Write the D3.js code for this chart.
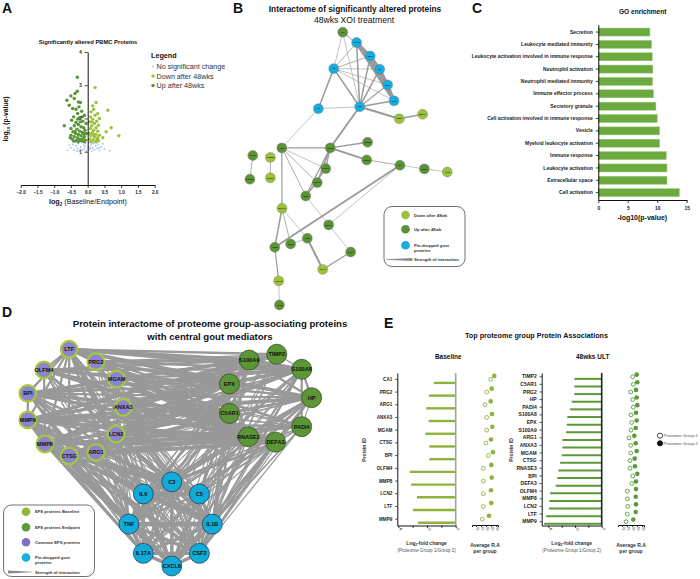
<!DOCTYPE html>
<html>
<head>
<meta charset="utf-8">
<script src="https://cdn.jsdelivr.net/npm/d3@7"></script>
<style>
  body { margin: 0; background: #fff; }
  svg { display: block; font-family: "Liberation Sans", Arial, Helvetica, sans-serif; }
</style>
</head>
<body>
<svg id="fig" width="700" height="579"></svg>
<script>
const FONT = '"Liberation Sans", Arial, Helvetica, sans-serif'

// ---------- A: volcano data [log2 ratio, -log10 p]
const volcanoUp = [[-0.31,3.24],[-0.31,2.82],[-0.38,2.75],[-0.5,2.68],[-0.62,2.55],[-0.4,2.6],[-0.55,2.4],[-0.28,2.5],[-0.22,2.48],[-0.45,2.3],[-0.35,2.28],[-0.18,2.22],[-0.3,2.15],[-0.1,2.1],[-0.42,2.05],[-0.25,2.02],[-0.7,1.78],[-0.48,1.95],[-0.15,1.92],[-0.35,1.88],[-0.05,1.85],[-0.28,1.82],[-0.4,1.78],[-0.2,1.75],[-0.12,1.72],[-0.5,1.7],[-0.32,1.68],[-0.08,1.65],[-0.24,1.62],[-0.44,1.6],[-0.16,1.58],[-0.36,1.55],[-0.04,1.55],[-0.28,1.52],[-0.5,1.5],[-0.2,1.48],[-0.1,1.46],[-0.4,1.45],[-0.3,1.42],[-0.14,1.4],[-0.46,1.38],[-0.24,1.37],[-0.06,1.35],[-0.34,1.34],[-0.18,1.32],[-0.42,1.32],[-0.28,1.3],[-0.1,1.3],[-0.38,1.6],[-0.22,1.9],[-0.3,1.98],[-0.12,1.55],[-0.2,1.35],[-0.52,1.42],[-0.26,2.35],[-0.16,2.05]]
const volcanoDown = [[0.22,2.93],[0.25,2.48],[0.15,2.38],[0.6,2.25],[0.18,2.28],[0.1,2.2],[0.3,2.15],[0.22,2.1],[0.08,2.05],[0.35,2.0],[0.15,1.98],[0.27,1.92],[0.05,1.9],[0.2,1.85],[0.7,1.72],[0.32,1.8],[0.12,1.78],[0.25,1.72],[0.08,1.7],[0.18,1.65],[0.55,1.6],[0.3,1.62],[0.14,1.58],[0.06,1.55],[0.24,1.52],[0.35,1.5],[0.93,1.48],[0.1,1.48],[0.2,1.45],[0.45,1.42],[0.28,1.4],[0.06,1.38],[0.16,1.36],[0.32,1.34],[0.22,1.32],[0.1,1.3],[0.26,1.3],[0.12,1.9],[0.3,1.42],[0.18,1.52]]
const volcanoNS = [[-0.6,1.05],[-0.5,1.12],[-0.45,1.22],[-0.4,1.05],[-0.35,1.18],[-0.3,1.1],[-0.28,1.25],[-0.25,1.02],[-0.2,1.15],[-0.18,1.28],[-0.15,1.06],[-0.12,1.2],[-0.1,1.1],[-0.06,1.25],[-0.04,1.03],[0.02,1.15],[0.04,1.27],[0.06,1.08],[0.1,1.2],[0.12,1.02],[0.15,1.12],[0.18,1.25],[0.2,1.06],[0.24,1.18],[0.28,1.1],[0.3,1.22],[0.35,1.04],[0.4,1.15],[0.45,1.24],[0.5,1.08],[0.66,1.03],[-0.55,1.2],[-0.38,1.28],[-0.22,1.08],[-0.08,1.16],[0.08,1.12],[0.22,1.28],[0.34,1.12],[-0.32,1.02],[0.14,1.26]]
const volcanoXTicks = [-2, -1.5, -1, -0.5, 0, 0.5, 1, 1.5, 2]
const volcanoYTicks = [1, 2, 3, 4]

// ---------- B: network (layout units 0-100)
const netBNodes = [
  ['LTF',46.7,0.8,'up'],['CXCL8',53.0,4.5,'pin'],['CSF2',59.2,9.3,'pin'],['IL6',63.5,14.0,'pin'],
  ['IL17A',67.1,19.6,'pin'],['IL1B',70.0,25.3,'pin'],['C5',42.6,13.8,'pin'],['C3',35.6,28.1,'pin'],
  ['TNF',54.4,27.4,'pin'],['TIMP1',72.4,31.7,'down'],['MMP14',83.0,30.1,'down'],['PSMB8',58.0,40.1,'up'],
  ['HSPA8',41.0,42.1,'up'],['ANXA1',19.0,42.1,'up'],['HSPA5',57.6,46.4,'up'],['PSAP',72.7,48.3,'up'],
  ['CD36',83.8,49.6,'up'],['APOE',94.2,50.7,'down'],['RCN1',5.8,44.8,'up'],['HNRNPK',4.5,53.3,'up'],
  ['CYB5R3',13.8,45.5,'down'],['ERP29',13.8,52.8,'down'],['RPL10',39.0,49.5,'up'],['RPS27A',35.1,54.5,'up'],
  ['RPS3',29.9,59.3,'up'],['EEF1A1',19.1,63.7,'down'],['SEPT7',40.3,69.6,'up'],['GNB2',15.8,77.6,'up'],
  ['RPS6',23.0,76.4,'up'],['TPM4',30.6,74.4,'up'],['SAE1',50.3,79.3,'up'],['MYH9',37.6,85.5,'down'],
  ['YWHAE',17.6,89.6,'down'],['ACTB',17.9,98.2,'up']
]
const netBEdges = [
  ['LTF','C5',0.6],['LTF','TNF',0.6],['LTF','CXCL8',0.6],['LTF','CSF2',0.5],
  ['CXCL8','CSF2',3],['CXCL8','IL6',3.5],['CXCL8','IL17A',4],['CXCL8','IL1B',3],['CSF2','IL6',3],['CSF2','IL17A',3.5],
  ['CSF2','IL1B',3],['IL6','IL17A',3],['IL6','IL1B',2.5],['IL17A','IL1B',3],
  ['C5','CXCL8',0.8],['C5','CSF2',0.8],['C5','IL6',0.6],['C5','IL17A',0.6],['C5','IL1B',0.6],['C5','TNF',1.5],['C5','C3',1.5],
  ['C3','TNF',0.6],['TNF','CXCL8',1.5],['TNF','CSF2',1.5],['TNF','IL6',1.5],['TNF','IL17A',1.2],['TNF','IL1B',1.5],
  ['TNF','TIMP1',2],['TIMP1','MMP14',1.5],['TNF','HSPA8',1.8],['C3','ANXA1',0.6],['ANXA1','HSPA8',1.2],
  ['HSPA8','PSMB8',1.5],['HSPA8','HSPA5',2],['HSPA5','PSAP',0.8],['PSAP','CD36',0.6],['CD36','APOE',0.6],
  ['RCN1','HNRNPK',0.8],['CYB5R3','ERP29',0.8],
  ['ANXA1','RPL10',0.6],['ANXA1','RPS27A',0.8],['ANXA1','RPS3',0.8],['ANXA1','EEF1A1',1.2],['HSPA8','RPL10',1.2],
  ['HSPA8','RPS27A',1.5],['HSPA8','RPS3',1.2],['RPL10','RPS3',1.2],['RPS27A','RPS3',1],
  ['RPS3','SEPT7',0.6],['PSAP','GNB2',1.8],['PSAP','SEPT7',0.6],['EEF1A1','GNB2',1.5],['EEF1A1','RPS6',0.8],
  ['EEF1A1','TPM4',0.6],['RPS6','TPM4',0.6],['TPM4','MYH9',2],['SEPT7','SAE1',0.6],['SAE1','MYH9',1.2],
  ['GNB2','YWHAE',1.2],['YWHAE','ACTB',0.6]
]

// ---------- C: GO enrichment
const goTerms = ['Secretion','Leukocyte mediated immunity','Leukocyte activation involved in immune response',
  'Neutrophil activation','Neutrophil mediated immunity','Immune effector process','Secretory granule',
  'Cell activation involved in immune response','Vesicle','Myeloid leukocyte activation','Immune response',
  'Leukocyte activation','Extracellular space','Cell activation']
const goValues = [8.75, 9.03, 9.15, 9.26, 9.2, 9.37, 9.78, 10.0, 10.4, 10.4, 11.53, 11.65, 11.65, 13.75]
const goTicks = [0, 5, 10, 15]

// ---------- D: interactome (layout units 0-100)
const dPurple = [['LTF',16.4,1.9],['PRG2',25.3,7.4],['OLFM4',8.0,11.1],['MGAM',32.2,15.2],['BPI',2.6,21.5],
  ['ANXA3',34.4,27.7],['MMP9',2.6,33.3],['LCN2',32.0,39.6],['MMP8',8.3,44.0],['ARG1',25.3,47.7],['CTSG',16.4,49.3]]
const dGreen = [['S100A9',76.4,6.7],['TIMP2',85.6,4.1],['S100A8',93.9,10.8],['EPX',69.8,17.3],['HP',97.2,23.4],
  ['C5AR1',69.8,30.4],['PADI4',93.9,36.3],['RNASE3',76.1,40.8],['DEFA3',85.2,43.2]]
const dBlue = [['C3',50.6,60.8],['IL6',41.1,66.2],['C5',59.8,66.2],['TNF',36.3,79.6],['IL1B',64.1,79.6],
  ['IL17A',41.1,92.6],['CSF2',59.8,92.6],['CXCL8',50.6,98.2]]
// weights purple x green
const wPG = [[3,2,3,2,3,2,2,2,3],[3,1,2,3,1,2,1,3,2],[2,1,2,2,2,2,1,2,3],[2,1,2,2,1,2,1,2,2],[3,1,2,2,2,3,1,2,3],
  [2,1,1,2,1,2,1,2,2],[3,2,3,2,3,3,2,2,3],[2,1,2,2,2,2,1,2,2],[3,1,2,2,2,3,2,3,3],[2,0,1,2,1,2,1,2,2],[2,1,2,2,1,2,1,3,3]]
// weights purple x blue
const wPB = [[2,2,1,2,2,1,1,2],[1,1,1,1,1,0,1,1],[1,1,1,1,1,1,1,1],[1,1,0,1,1,0,1,1],[1,2,1,2,2,1,1,2],
  [1,1,1,1,1,0,1,1],[2,2,2,3,3,2,2,3],[2,2,1,2,2,1,1,2],[2,2,2,2,3,2,2,2],[1,1,1,1,1,1,1,1],[2,2,2,2,2,1,2,2]]
// weights green x blue
const wGB = [[1,1,1,2,2,1,1,2],[1,1,1,1,1,0,1,1],[1,1,1,2,2,1,1,2],[1,1,1,1,1,1,1,1],[2,2,2,2,2,1,1,2],
  [2,1,2,1,2,1,1,1],[1,1,1,1,1,0,1,1],[1,1,1,1,1,1,1,1],[2,2,1,2,2,1,2,2]]
const dExtraEdges = [
  ['C3','IL6',3],['C3','C5',3],['C3','TNF',2],['C3','IL1B',2],['C3','IL17A',2],['C3','CSF2',2],['C3','CXCL8',3],
  ['IL6','C5',3],['IL6','TNF',3],['IL6','IL1B',3],['IL6','IL17A',3],['IL6','CSF2',2],['IL6','CXCL8',3],
  ['C5','TNF',2],['C5','IL1B',3],['C5','IL17A',2],['C5','CSF2',2],['C5','CXCL8',3],
  ['TNF','IL1B',4],['TNF','IL17A',3],['TNF','CSF2',3],['TNF','CXCL8',3],
  ['IL1B','IL17A',3],['IL1B','CSF2',3],['IL1B','CXCL8',3],['IL17A','CSF2',3],['IL17A','CXCL8',3],['CSF2','CXCL8',3],
  ['LTF','PRG2',2],['LTF','OLFM4',2],['LTF','MMP9',2],['LTF','LCN2',3],['LTF','MMP8',2],['LTF','CTSG',2],['LTF','BPI',2],
  ['MMP9','MMP8',3],['MMP8','CTSG',2],['OLFM4','MMP8',2],['BPI','MMP9',2],['LCN2','MMP9',2],['ANXA3','MGAM',1],
  ['ARG1','CTSG',1],['PRG2','MGAM',1],['BPI','LCN2',2],['OLFM4','LCN2',2],['MMP9','CTSG',2],
  ['S100A9','S100A8',3],['S100A9','EPX',2],['S100A8','HP',2],['EPX','C5AR1',2],['HP','PADI4',1],['DEFA3','RNASE3',2],
  ['TIMP2','S100A8',1],['S100A9','C5AR1',2],['S100A8','PADI4',2],['EPX','RNASE3',2],['S100A9','HP',2]
]

// ---------- E: top protein associations
const baselineIds = ['CA1','PRG2','ARG1','ANXA3','MGAM','CTSG','BPI','OLFM4','MMP8','LCN2','LTF','MMP9']
const baselineFC = [-1.51,-1.86,-2.05,-1.88,-2.12,-1.84,-1.84,-3.2,-3.11,-2.7,-2.98,-2.63]
const baselineRA1 = [24.7,20.7,19,20.7,20.7,20,22.3,17.3,17.3,17.3,17.3,16.3]
const baselineRA2 = [28.3,25.7,24.7,26,26.3,25,27,25.3,25.7,25,25.3,23]
const ultIds = ['TIMP2','C5AR1','PRG2','HP','PADI4','S100A8','EPX','S100A9','ARG1','ANXA3','MGAM','CTSG','RNASE3','BPI','DEFA3','OLFM4','MMP8','LCN2','LTF','MMP9']
const ultFC = [-2.05,-2.05,-2.05,-2.25,-2.37,-2.58,-2.62,-2.67,-2.95,-2.95,-3.0,-3.12,-3.25,-3.33,-3.45,-3.87,-3.92,-3.95,-4.17,-4.32]
const ultRA1 = [20.7,21.3,18.7,20.7,21.3,19,19.7,19,17,18.7,18.7,18,18,20.7,19.7,15.3,15.3,15.7,15.3,14]
const ultRA2 = [24.7,25.3,24,24.7,25.3,24,24.7,23.7,22.3,23.7,24.7,22.7,23,25.3,24,24,23.7,24,23.7,21.3]
const fcTicks = [-4, -3, -2, -1, 0]
const raTicks = [10, 15, 20, 25, 30]

const C_LIGHT = '#9cc23c', C_DARK = '#5a9436', C_BLUE = '#17addf', C_PURPLE = '#8c84cf'

const svg = d3.select('#fig')

function styleAxis(g, size, weight) {
  g.attr('font-family', FONT)
  g.select('.domain').attr('stroke', '#111').attr('stroke-width', 1)
  g.selectAll('.tick line').attr('stroke', '#111').attr('stroke-width', 0.8)
  g.selectAll('.tick text').attr('font-size', size).attr('font-weight', weight || 'bold').attr('fill', '#222')
}

function label(g, x, y, s, size, o = {}) {
  return g.append('text').attr('x', x).attr('y', y).text(s)
    .attr('font-size', size).attr('font-weight', o.weight || 'normal')
    .attr('text-anchor', o.anchor || 'start').attr('fill', o.fill || '#111')
}

function wedge(g, x0, x1, y, thickLeft) {
  const a = thickLeft ? 1.6 : 0.3, b = thickLeft ? 0.3 : 1.6
  g.append('path').attr('d', `M${x0},${y - a}L${x1},${y - b}L${x1},${y + b}L${x0},${y + a}Z`).attr('fill', '#8a8a8a')
}

// panel letters
;[['A', 2, 13], ['B', 233, 13], ['C', 472, 13], ['D', 2, 317], ['E', 384, 328]].forEach(d =>
  label(svg, d[1], d[2], d[0], 14, { weight: 'bold' }))

// ================= A
;(function () {
  const g = svg.append('g')
  const x = d3.scaleLinear().domain([-2, 2]).range([20.7, 154.7])
  const y = d3.scaleLinear().domain([0, 4]).range([185, 52])
  label(g, 88, 44, 'Significantly altered PBMC Proteins', 5.8, { weight: 'bold', anchor: 'middle' })

  g.selectAll('.ns').data(volcanoNS).join('circle').attr('cx', d => x(d[0])).attr('cy', d => y(d[1]))
    .attr('r', 0.9).attr('fill', '#a9bfe2')
  g.selectAll('.dn').data(volcanoDown).join('circle').attr('cx', d => x(d[0])).attr('cy', d => y(d[1]))
    .attr('r', 1.7).attr('fill', C_LIGHT)
  g.selectAll('.up').data(volcanoUp).join('circle').attr('cx', d => x(d[0])).attr('cy', d => y(d[1]))
    .attr('r', 1.7).attr('fill', C_DARK)

  const xa = g.append('g').attr('transform', 'translate(0,185)')
    .call(d3.axisBottom(x).tickValues(volcanoXTicks).tickSize(3).tickSizeOuter(0).tickFormat(d3.format('.1f')))
  styleAxis(xa, 4.6)
  const ya = g.append('g').attr('transform', `translate(${x(0)},0)`)
    .call(d3.axisLeft(y).tickValues(volcanoYTicks).tickSize(3).tickSizeOuter(0).tickFormat(d3.format('d')))
  styleAxis(ya, 4.6)

  const xt = label(g, 88, 204, '', 7.2, { anchor: 'middle' })
  xt.append('tspan').text('log').attr('font-weight', 'bold')
  xt.append('tspan').text('2').attr('font-size', 4.5).attr('dy', 2).attr('font-weight', 'bold')
  xt.append('tspan').text(' (Baseline/Endpoint)').attr('dy', -2)
  const yt = label(g, 0, 0, '', 6.8, { anchor: 'middle', weight: 'bold' }).attr('transform', 'translate(8,119) rotate(-90)')
  yt.append('tspan').text('log')
  yt.append('tspan').text('10').attr('font-size', 4.3).attr('dy', 2)
  yt.append('tspan').text(' (p-value)').attr('dy', -2)

  label(g, 151, 58, 'Legend', 7.2, { weight: 'bold' })
  const leg = [['No significant change', '#a9bfe2', 0.9], ['Down after 48wks', C_LIGHT, 1.7], ['Up after 48wks', C_DARK, 1.7]]
  leg.forEach((d, i) => {
    const yy = 66.5 + i * 9.5
    g.append('circle').attr('cx', 153).attr('cy', yy).attr('r', d[2]).attr('fill', d[1])
    label(g, 156.5, yy + 2.6, d[0], 7.2, { fill: '#333' })
  })
})()

// ================= B
;(function () {
  const g = svg.append('g')
  const x = d3.scaleLinear().domain([0, 100]).range([240, 460])
  const y = d3.scaleLinear().domain([0, 100]).range([30, 310])
  label(g, 355, 12, 'Interactome of significantly altered proteins', 8.3, { weight: 'bold', anchor: 'middle' })
  label(g, 354, 22.5, '48wks XOI treatment', 8.6, { anchor: 'middle' })
  const byId = new Map(netBNodes.map(d => [d[0], d]))
  g.append('g').selectAll('line').data(netBEdges).join('line')
    .attr('x1', d => x(byId.get(d[0])[1])).attr('y1', d => y(byId.get(d[0])[2]))
    .attr('x2', d => x(byId.get(d[1])[1])).attr('y2', d => y(byId.get(d[1])[2]))
    .attr('stroke', '#9a9a9a').attr('stroke-width', d => d[2])
  const col = { up: C_DARK, down: C_LIGHT, pin: C_BLUE }
  const n = g.append('g').selectAll('g').data(netBNodes).join('g')
    .attr('transform', d => `translate(${x(d[1])},${y(d[2])})`)
  n.append('circle').attr('r', 5).attr('fill', d => col[d[3]]).attr('stroke', '#7a7a7a').attr('stroke-width', 0.4)
  n.append('text').text(d => d[0]).attr('font-size', 2).attr('font-weight', 'bold')
    .attr('text-anchor', 'middle').attr('dy', '0.35em').attr('fill', '#111')

  g.append('rect').attr('x', 384).attr('y', 206.5).attr('width', 81).attr('height', 60).attr('rx', 8)
    .attr('fill', '#fff').attr('stroke', '#333').attr('stroke-width', 0.7)
  const leg = [['Down after 48wk', C_LIGHT], ['Up after 48wk', C_DARK], ['Pin-dropped gout', C_BLUE]]
  leg.forEach((d, i) => {
    const yy = [215, 229.3, 245.3][i]
    g.append('circle').attr('cx', 405.5).attr('cy', yy).attr('r', 4.3).attr('fill', d[1])
    label(g, 414, yy + 1.6, d[0], 4.2, { weight: 'bold', fill: '#333' })
  })
  label(g, 414, 251.5, 'proteins', 4.2, { weight: 'bold', fill: '#333' })
  wedge(g, 386, 412.5, 259.5, false)
  label(g, 414, 261, 'Strength of interaction', 4.2, { weight: 'bold', fill: '#333' })
})()

// ================= C
;(function () {
  const g = svg.append('g')
  const y = d3.scaleBand().domain(goTerms).range([24.7, 200]).paddingInner(0.35).paddingOuter(0.27)
  const x = d3.scaleLinear().domain([0, 15]).range([598.3, 686.7])
  label(g, 642.7, 14, 'GO enrichment', 6.6, { weight: 'bold', anchor: 'middle' })
  g.selectAll('rect').data(goTerms).join('rect')
    .attr('x', x(0)).attr('y', d => y(d)).attr('height', y.bandwidth())
    .attr('width', (d, i) => x(goValues[i]) - x(0))
    .attr('fill', '#6caa40').attr('stroke', '#9ccb7a').attr('stroke-width', 0.5)
  const ya = g.append('g').attr('transform', `translate(${x(0)},0)`).call(d3.axisLeft(y).tickSize(2.5).tickSizeOuter(0))
  styleAxis(ya, 5)
  const xa = g.append('g').attr('transform', 'translate(0,200)').call(d3.axisBottom(x).tickValues(goTicks).tickSize(3).tickSizeOuter(0))
  styleAxis(xa, 5)
  label(g, 642.3, 220, '-log10(p-value)', 7, { weight: 'bold', anchor: 'middle' })
})()

// ================= D
;(function () {
  const g = svg.append('g')
  const x = d3.scaleLinear().domain([0, 100]).range([20, 320])
  const y = d3.scaleLinear().domain([0, 100]).range([345, 570])
  label(g, 210, 327, 'Protein interactome of proteome group-associating proteins', 9.6, { weight: 'bold', anchor: 'middle' })
  label(g, 210, 339.5, 'with central gout mediators', 9.6, { weight: 'bold', anchor: 'middle' })

  const pos = new Map([...dPurple, ...dGreen, ...dBlue].map(d => [d[0], d]))
  const edges = []
  dPurple.forEach((p, i) => dGreen.forEach((q, j) => wPG[i][j] && edges.push([p[0], q[0], wPG[i][j]])))
  dPurple.forEach((p, i) => dBlue.forEach((q, j) => wPB[i][j] && edges.push([p[0], q[0], wPB[i][j]])))
  dGreen.forEach((p, i) => dBlue.forEach((q, j) => wGB[i][j] && edges.push([p[0], q[0], wGB[i][j]])))
  dExtraEdges.forEach(e => edges.push(e))
  g.append('g').selectAll('line').data(edges).join('line')
    .attr('x1', d => x(pos.get(d[0])[1])).attr('y1', d => y(pos.get(d[0])[2]))
    .attr('x2', d => x(pos.get(d[1])[1])).attr('y2', d => y(pos.get(d[1])[2]))
    .attr('stroke', '#999').attr('stroke-width', d => d[2] * 1.15)

  const groups = [[dPurple, C_PURPLE, '#a6c83a', 2.2, 8.3], [dGreen, '#5c9636', '#26401a', 0.7, 10], [dBlue, '#12abd9', '#1b3442', 0.7, 10]]
  groups.forEach(([data, fill, stroke, sw, r]) => {
    const n = g.append('g').selectAll('g').data(data).join('g').attr('transform', d => `translate(${x(d[1])},${y(d[2])})`)
    n.append('circle').attr('r', r).attr('fill', fill).attr('stroke', stroke).attr('stroke-width', sw)
    n.append('text').text(d => d[0]).attr('font-size', 5.6).attr('font-weight', 'bold')
      .attr('text-anchor', 'middle').attr('dy', '0.36em').attr('fill', '#111')
  })

  g.append('rect').attr('x', 3.5).attr('y', 505).attr('width', 91).attr('height', 71.5).attr('rx', 8)
    .attr('fill', '#fff').attr('stroke', '#333').attr('stroke-width', 0.7)
  const leg = [['EFS proteins Baseline', '#93b53c'], ['EFS proteins Endpoint', '#5c9a3a'], ['Common EFS proteins', '#7f6fc2'], ['Pin-dropped gout', C_BLUE]]
  leg.forEach((d, i) => {
    const yy = [511.7, 527.3, 542.3, 557.5][i]
    g.append('circle').attr('cx', 26).attr('cy', yy).attr('r', 4.3).attr('fill', d[1])
    label(g, 35, yy + 1.6, d[0], 4.2, { weight: 'bold', fill: '#333' })
  })
  label(g, 35, 563.5, 'proteins', 4.2, { weight: 'bold', fill: '#333' })
  wedge(g, 8, 32, 572, true)
  label(g, 35, 573.5, 'Strength of interaction', 4.2, { weight: 'bold', fill: '#333' })
})()

// ================= E
function fcPanel(o) {
  const g = svg.append('g')
  const y = d3.scaleBand().domain(o.ids).range(o.yRange)
  const x = d3.scaleLinear().domain(o.xDomain).range(o.xRange)
  const off = y.bandwidth() * 0.78
  label(g, o.titleX, 359, o.title, 6.5, { weight: 'bold', anchor: 'middle' })
  g.selectAll('line.bar').data(o.ids).join('line').attr('class', 'bar')
    .attr('x1', x(0)).attr('x2', (d, i) => x(o.fc[i]))
    .attr('y1', d => y(d) + off).attr('y2', d => y(d) + off)
    .attr('stroke', o.color).attr('stroke-width', o.barW)
  g.append('line').attr('x1', x(0)).attr('x2', x(0)).attr('y1', o.yRange[0]).attr('y2', o.yRange[1])
    .attr('stroke', o.zeroColor).attr('stroke-width', 1.6)
  const ya = g.append('g').attr('transform', `translate(${o.xRange[0]},0)`).call(d3.axisLeft(y).tickSize(2).tickSizeOuter(0))
  styleAxis(ya, o.fontSize)
  const xa = g.append('g').attr('transform', `translate(0,${o.yRange[1]})`)
    .call(d3.axisBottom(x).tickValues(fcTicks).tickSize(2.5).tickSizeOuter(0).tickFormat(d => d % 2 === 0 ? d : ''))
  styleAxis(xa, 4.2, 'normal')
  xa.selectAll('.tick text').attr('transform', 'rotate(-65)').attr('text-anchor', 'end').attr('dy', '0.35em').attr('y', 3).attr('x', -1)

  const cx = (o.xRange[0] + o.xRange[1]) / 2
  const t = label(g, cx, 545, '', 5, { weight: 'bold', anchor: 'middle', fill: '#333' })
  t.append('tspan').text('Log')
  t.append('tspan').text('2').attr('font-size', 3.3).attr('dy', 1.2)
  t.append('tspan').text('-fold change').attr('dy', -1.2)
  label(g, cx, 552, '(Proteome Group 1/Group 2)', 4.6, { anchor: 'middle', fill: '#555' })
  label(g, 0, 0, 'Protein ID', 5, { weight: 'bold', anchor: 'middle', fill: '#333' })
    .attr('transform', `translate(${o.xRange[0] - o.idTitleGap},450) rotate(-90)`)

  // dot plot
  const dx = d3.scaleLinear().domain([6, 32]).range(o.dotRange)
  const dOff = -y.step() * 0.27
  g.selectAll('circle.g2').data(o.ids).join('circle').attr('class', 'g2')
    .attr('cx', (d, i) => dx(o.ra2[i])).attr('cy', d => y(d) + y.bandwidth() / 2 + dOff)
    .attr('r', 2.3).attr('fill', o.color)
  g.selectAll('circle.g1').data(o.ids).join('circle').attr('class', 'g1')
    .attr('cx', (d, i) => dx(o.ra1[i])).attr('cy', d => y(d) + y.bandwidth() / 2)
    .attr('r', 1.9).attr('fill', '#fff').attr('stroke', o.color).attr('stroke-width', 0.9)
  const da = g.append('g').attr('transform', `translate(0,525)`)
    .call(d3.axisBottom(dx).tickValues(raTicks).tickSize(2).tickSizeOuter(2))
  styleAxis(da, 3.4, 'normal')
  da.selectAll('.tick text').attr('transform', 'rotate(-65)').attr('text-anchor', 'end').attr('dy', '0.35em').attr('y', 2.5).attr('x', -1)
  const dc = (o.dotRange[0] + o.dotRange[1]) / 2
  label(g, dc, 546.5, 'Average R.A', 5, { weight: 'bold', anchor: 'middle', fill: '#333' })
  label(g, dc, 552.7, 'per group', 5, { weight: 'bold', anchor: 'middle', fill: '#333' })
}

label(svg, 536.5, 338, 'Top proteome group Protein Associations', 7.2, { weight: 'bold', anchor: 'middle' })
fcPanel({ ids: baselineIds, fc: baselineFC, ra1: baselineRA1, ra2: baselineRA2, title: 'Baseline', titleX: 448.3,
  yRange: [373, 525.5], xDomain: [-4.07, 0], xRange: [397.3, 455.7], color: '#8db33a', zeroColor: '#a3a3a3',
  barW: 2.4, fontSize: 4.6, dotRange: [472, 498], idTitleGap: 31 })
fcPanel({ ids: ultIds, fc: ultFC, ra1: ultRA1, ra2: ultRA2, title: '48wks ULT', titleX: 592.7,
  yRange: [372.9, 525.5], xDomain: [-4.5, 0], xRange: [541.7, 601.7], color: '#5a9a3a', zeroColor: '#222',
  barW: 2, fontSize: 5, dotRange: [618, 644], idTitleGap: 29 })

// E legend
;[['Proteome Group 1', '#fff'], ['Proteome Group 2', '#111']].forEach((d, i) => {
  const yy = 435.7 + i * 7.6
  svg.append('circle').attr('cx', 660).attr('cy', yy).attr('r', 2.6).attr('fill', d[1]).attr('stroke', '#111').attr('stroke-width', 0.8)
  label(svg, 663.5, yy + 1.5, d[0], 4.2, { fill: '#555' })
})
</script>
</body>
</html>
